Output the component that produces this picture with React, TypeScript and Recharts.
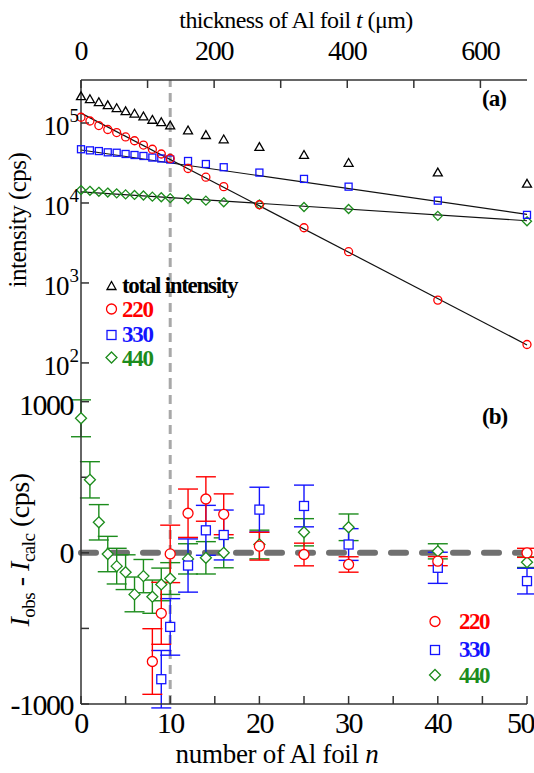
import React from 'react'
import {
  ComposedChart,
  Scatter,
  Line,
  XAxis,
  YAxis,
  ReferenceLine,
  ErrorBar,
} from 'recharts'

// number of Al foils (top panel)
const N_TOP = [0, 1, 2, 3, 4, 5, 6, 7, 8, 9, 10, 12, 14, 16, 20, 25, 30, 40, 50]
const TOTAL = [2.11e5, 1.94e5, 1.78e5, 1.63e5, 1.5e5, 1.37e5, 1.28e5, 1.18e5, 1.07e5, 1.0e5, 9.1e4, 7.9e4, 6.9e4, 6.1e4, 4.9e4, 3.9e4, 3.1e4, 2.35e4, 1.7e4]
const I220 = [1.18e5, 1.06e5, 9.3e4, 8.3e4, 7.6e4, 6.7e4, 6.0e4, 5.3e4, 4.7e4, 4.1e4, 3.6e4, 2.7e4, 2.1e4, 1.6e4, 9.5e3, 4.9e3, 2.46e3, 610, 170]
const I330 = [4.7e4, 4.55e4, 4.46e4, 4.3e4, 4.25e4, 4.1e4, 3.98e4, 3.87e4, 3.7e4, 3.6e4, 3.5e4, 3.35e4, 3.07e4, 2.8e4, 2.4e4, 2.0e4, 1.6e4, 1.07e4, 7.1e3]
const I440 = [1.45e4, 1.42e4, 1.38e4, 1.35e4, 1.32e4, 1.28e4, 1.26e4, 1.24e4, 1.2e4, 1.18e4, 1.15e4, 1.12e4, 1.07e4, 1.02e4, 9.6e3, 8.9e3, 8.4e3, 6.9e3, 5.9e3]

// fitted lines, value at n = 0 and n = 50
const FIT_N = [0, 50]
const FIT220 = [1.33e5, 168]
const FIT330 = [4.6e4, 7.2e3]
const FIT440 = [1.38e4, 6.0e3]

// residuals (bottom panel)
const R220_N = [8, 9, 10, 12, 14, 16, 20, 25, 30, 40, 50]
const R220 = [-719, -400, -7, 262, 356, 255, 44, -11, -77, -55, 0]
const R220_ERR = [217, 205, 190, 160, 147, 135, 92, 75, 51, 30, 30]

const R330_N = [9, 10, 12, 14, 16, 20, 25, 30, 40, 50]
const R330 = [-836, -490, -84, 149, 118, 286, 310, 55, -99, -187]
const R330_ERR = [190, 187, 176, 165, 165, 148, 138, 105, 103, 85]

const R440_N = [0, 1, 2, 3, 4, 5, 6, 7, 8, 9, 10, 12, 14, 16, 20, 25, 30, 40, 50]
const R440 = [890, 483, 202, -8, -88, -128, -275, -154, -290, -209, -170, -40, -33, 0, 55, 136, 169, 10, -62]
const R440_ERR = [122, 120, 117, 117, 118, 115, 115, 110, 110, 108, 105, 100, 107, 99, 95, 90, 88, 50, 35]

const FOIL_UM = 13.4
const N_TICKS = [0, 5, 10, 15, 20, 25, 30, 35, 40, 45, 50]
const T_TICKS = [0, 100, 200, 300, 400, 500, 600]
const LOG_TICKS = [100, 1000, 10000, 100000]
const RES_TICKS = [-1000, -500, 0, 500, 1000]

const RED = '#ff0000'
const BLUE = '#1414ff'
const GREEN = '#1c8c1c'
const AXIS = '#333'
const FONT = '"Liberation Serif", "DejaVu Serif", serif'

const zip = (xs: number[], ys: number[], es?: number[]) =>
  xs.map((n, i) => ({ n, v: ys[i], err: es ? es[i] : 0 }))

const circle = (r: number, color: string, fill: string) => (p: any) =>
  <circle cx={p.cx} cy={p.cy} r={r} fill={fill} stroke={color} strokeWidth={1.3} />
const square = (s: number, color: string, fill: string) => (p: any) =>
  <rect x={p.cx - s / 2} y={p.cy - s / 2} width={s} height={s} fill={fill} stroke={color} strokeWidth={1.3} />
const diamond = (h: number, color: string, fill: string) => (p: any) =>
  <path d={`M${p.cx},${p.cy - h}L${p.cx + h},${p.cy}L${p.cx},${p.cy + h}L${p.cx - h},${p.cy}Z`} fill={fill} stroke={color} strokeWidth={1.3} />
const triangle = (s: number, color: string) => (p: any) =>
  <path d={`M${p.cx},${p.cy - s * 0.58}L${p.cx + s / 2},${p.cy + s * 0.29}L${p.cx - s / 2},${p.cy + s * 0.29}Z`} fill="none" stroke={color} strokeWidth={1.3} />
const nothing = () => <g />

const LogTick = (props: any) => {
  const { x, y, payload } = props
  const exp = Math.round(Math.log10(payload.value))
  return (
    <text x={x} y={y + 12} textAnchor="end" fontFamily={FONT} fill="#000" letterSpacing={-1}>
      <tspan fontSize={27}>10</tspan>
      <tspan fontSize={19} dx={1} dy={-13}>{exp}</tspan>
    </text>
  )
}

const blank = () => ''
const topFont = { fontFamily: FONT, fontSize: 28, fill: '#000', letterSpacing: -1.2 }
const botFont = { fontFamily: FONT, fontSize: 30, fill: '#000', letterSpacing: -1.5 }
const axisProps = { stroke: AXIS, strokeWidth: 1.5, tickSize: -8, tickLine: { stroke: AXIS, strokeWidth: 1.5 } }

function TopPanel() {
  return (
    <ComposedChart width={534} height={387} margin={{ top: 0, right: 7, bottom: 0, left: 0 }}>
      <XAxis xAxisId="n" dataKey="n" type="number" domain={[0, 50]} ticks={N_TICKS} orientation="bottom" height={0} tickFormatter={blank} {...axisProps} />
      <XAxis xAxisId="t" dataKey="n" type="number" domain={[0, 50 * FOIL_UM]} allowDataOverflow ticks={T_TICKS} orientation="top" height={80} tickMargin={28}
        tickFormatter={(v: number) => (v % 200 === 0 ? String(v) : '')} tick={topFont} {...axisProps} />
      <YAxis yAxisId="l" dataKey="v" scale="log" type="number" domain={[50, 345000]} allowDataOverflow ticks={LOG_TICKS} width={81} tickMargin={11} tick={<LogTick />} {...axisProps} />
      <YAxis yAxisId="r" dataKey="v" orientation="right" scale="log" type="number" domain={[50, 345000]} allowDataOverflow ticks={LOG_TICKS} width={0} tickFormatter={blank} {...axisProps} />
      {/* anchors the top and right frame axes */}
      <Scatter xAxisId="t" yAxisId="r" data={[{ n: 0, v: 1000 }]} shape={nothing} legendType="none" isAnimationActive={false} />
      <ReferenceLine xAxisId="n" yAxisId="l" x={10} stroke="#a8a8a8" strokeWidth={3} strokeDasharray="9 6" />
      <Line xAxisId="n" yAxisId="l" data={zip(FIT_N, FIT220)} dataKey="v" stroke="#111" strokeWidth={1.2} dot={false} isAnimationActive={false} />
      <Line xAxisId="n" yAxisId="l" data={zip(FIT_N, FIT330)} dataKey="v" stroke="#111" strokeWidth={1.2} dot={false} isAnimationActive={false} />
      <Line xAxisId="n" yAxisId="l" data={zip(FIT_N, FIT440)} dataKey="v" stroke="#111" strokeWidth={1.2} dot={false} isAnimationActive={false} />
      <Scatter xAxisId="n" yAxisId="l" data={zip(N_TOP, TOTAL)} shape={triangle(9, '#000')} isAnimationActive={false} />
      <Scatter xAxisId="n" yAxisId="l" data={zip(N_TOP, I440)} shape={diamond(4.5, GREEN, 'none')} isAnimationActive={false} />
      <Scatter xAxisId="n" yAxisId="l" data={zip(N_TOP, I330)} shape={square(7, BLUE, 'none')} isAnimationActive={false} />
      <Scatter xAxisId="n" yAxisId="l" data={zip(N_TOP, I220)} shape={circle(4, RED, 'none')} isAnimationActive={false} />
    </ComposedChart>
  )
}

function BottomPanel() {
  return (
    <ComposedChart width={534} height={386} margin={{ top: 0, right: 7, bottom: 0, left: 0 }}>
      <XAxis xAxisId="n" dataKey="n" type="number" domain={[0, 50]} ticks={N_TICKS} orientation="bottom" height={69} tickMargin={16}
        tickFormatter={(v: number) => (v % 10 === 0 ? String(v) : '')} tick={botFont} {...axisProps} />
      <XAxis xAxisId="top" dataKey="n" type="number" domain={[0, 50]} ticks={N_TICKS} orientation="top" height={0} tickFormatter={blank} {...axisProps} />
      <YAxis yAxisId="l" dataKey="v" type="number" domain={[-1000, 1097]} allowDataOverflow ticks={RES_TICKS} width={81} tickMargin={16}
        tickFormatter={(v: number) => (v % 1000 === 0 ? String(v) : '')} tick={botFont} {...axisProps} />
      <YAxis yAxisId="r" dataKey="v" orientation="right" type="number" domain={[-1000, 1097]} allowDataOverflow ticks={RES_TICKS} width={0} tickFormatter={blank} {...axisProps} />
      <Scatter xAxisId="top" yAxisId="r" data={[{ n: 0, v: 0 }]} shape={nothing} legendType="none" isAnimationActive={false} />
      <ReferenceLine xAxisId="n" yAxisId="l" x={10} stroke="#a8a8a8" strokeWidth={3} strokeDasharray="9 6" />
      <ReferenceLine xAxisId="n" yAxisId="l" y={0} stroke="#707070" strokeWidth={6} strokeDasharray="15 16" strokeLinecap="round" />
      <Scatter xAxisId="n" yAxisId="l" data={zip(R440_N, R440, R440_ERR)} shape={diamond(5.5, GREEN, '#fff')} isAnimationActive={false}>
        <ErrorBar dataKey="err" direction="y" width={10} stroke={GREEN} strokeWidth={1.4} />
      </Scatter>
      <Scatter xAxisId="n" yAxisId="l" data={zip(R330_N, R330, R330_ERR)} shape={square(9, BLUE, '#fff')} isAnimationActive={false}>
        <ErrorBar dataKey="err" direction="y" width={10} stroke={BLUE} strokeWidth={1.4} />
      </Scatter>
      <Scatter xAxisId="n" yAxisId="l" data={zip(R220_N, R220, R220_ERR)} shape={circle(5, RED, '#fff')} isAnimationActive={false}>
        <ErrorBar dataKey="err" direction="y" width={10} stroke={RED} strokeWidth={1.4} />
      </Scatter>
    </ComposedChart>
  )
}

function Overlay() {
  const lg = { fontFamily: FONT, fontSize: 23, fontWeight: 700, letterSpacing: -1.3 }
  const lgB = { fontFamily: FONT, fontSize: 23, fontWeight: 700, letterSpacing: -1.5 }
  const title = { fontFamily: FONT, fontSize: 24, fill: '#000', letterSpacing: -0.6 }
  const ytitle = { fontFamily: FONT, fontSize: 25, fill: '#000', letterSpacing: -0.5 }
  return (
    <svg width={534} height={773} style={{ position: 'absolute', left: 0, top: 0, pointerEvents: 'none' }}>
      <text x={296} y={28} textAnchor="middle" {...title}>
        thickness of Al foil <tspan fontStyle="italic">t</tspan> (μm)
      </text>
      <text x={277} y={763} textAnchor="middle" fontFamily={FONT} fontSize={27} letterSpacing={-0.3}>
        number of Al foil <tspan fontStyle="italic">n</tspan>
      </text>
      <text transform="translate(26,220) rotate(-90)" textAnchor="middle" {...ytitle}>intensity (cps)</text>
      <text transform="translate(29,550) rotate(-90)" textAnchor="middle" fontFamily={FONT} fontSize={28} letterSpacing={-0.5}>
        <tspan fontStyle="italic">I</tspan><tspan fontSize={19} dy={6}>obs</tspan>
        <tspan dy={-6}> - </tspan><tspan fontStyle="italic">I</tspan><tspan fontSize={19} dy={6}>calc</tspan>
        <tspan dy={-6}> (cps)</tspan>
      </text>
      <text x={482} y={106} fontFamily={FONT} fontSize={23} fontWeight={700} letterSpacing={-1}>(a)</text>
      <text x={482} y={424} fontFamily={FONT} fontSize={23} fontWeight={700} letterSpacing={-1}>(b)</text>

      {/* legend, top panel */}
      <path d="M111.5,281.5L116,289.5L107,289.5Z" fill="none" stroke="#000" strokeWidth={1.3} />
      <text x={122} y={293} fill="#000" {...lg}>total intensity</text>
      <circle cx={111.5} cy={309} r={5} fill="none" stroke={RED} strokeWidth={1.3} />
      <text x={122} y={317} fill={RED} {...lg}>220</text>
      <rect x={107} y={330.5} width={9} height={9} fill="none" stroke={BLUE} strokeWidth={1.3} />
      <text x={122} y={342} fill={BLUE} {...lg}>330</text>
      <path d="M111.5,352L117,357.5L111.5,363L106,357.5Z" fill="none" stroke={GREEN} strokeWidth={1.3} />
      <text x={122} y={366} fill={GREEN} {...lg}>440</text>

      {/* legend, bottom panel */}
      <circle cx={435} cy={621.5} r={5} fill="none" stroke={RED} strokeWidth={1.3} />
      <text x={459} y={629} fill={RED} {...lgB}>220</text>
      <rect x={430.5} y={645.5} width={9} height={9} fill="none" stroke={BLUE} strokeWidth={1.3} />
      <text x={459} y={657} fill={BLUE} {...lgB}>330</text>
      <path d="M435,669.5L440.5,675L435,680.5L429.5,675Z" fill="none" stroke={GREEN} strokeWidth={1.3} />
      <text x={459} y={683} fill={GREEN} {...lgB}>440</text>
    </svg>
  )
}

export default function App() {
  return (
    <div style={{ position: 'absolute', left: 0, top: 0, width: 534, height: 773, background: '#fff', overflow: 'hidden' }}>
      <div style={{ position: 'absolute', left: 0, top: 0 }}>
        <TopPanel />
      </div>
      <div style={{ position: 'absolute', left: 0, top: 387 }}>
        <BottomPanel />
      </div>
      <Overlay />
    </div>
  )
}
